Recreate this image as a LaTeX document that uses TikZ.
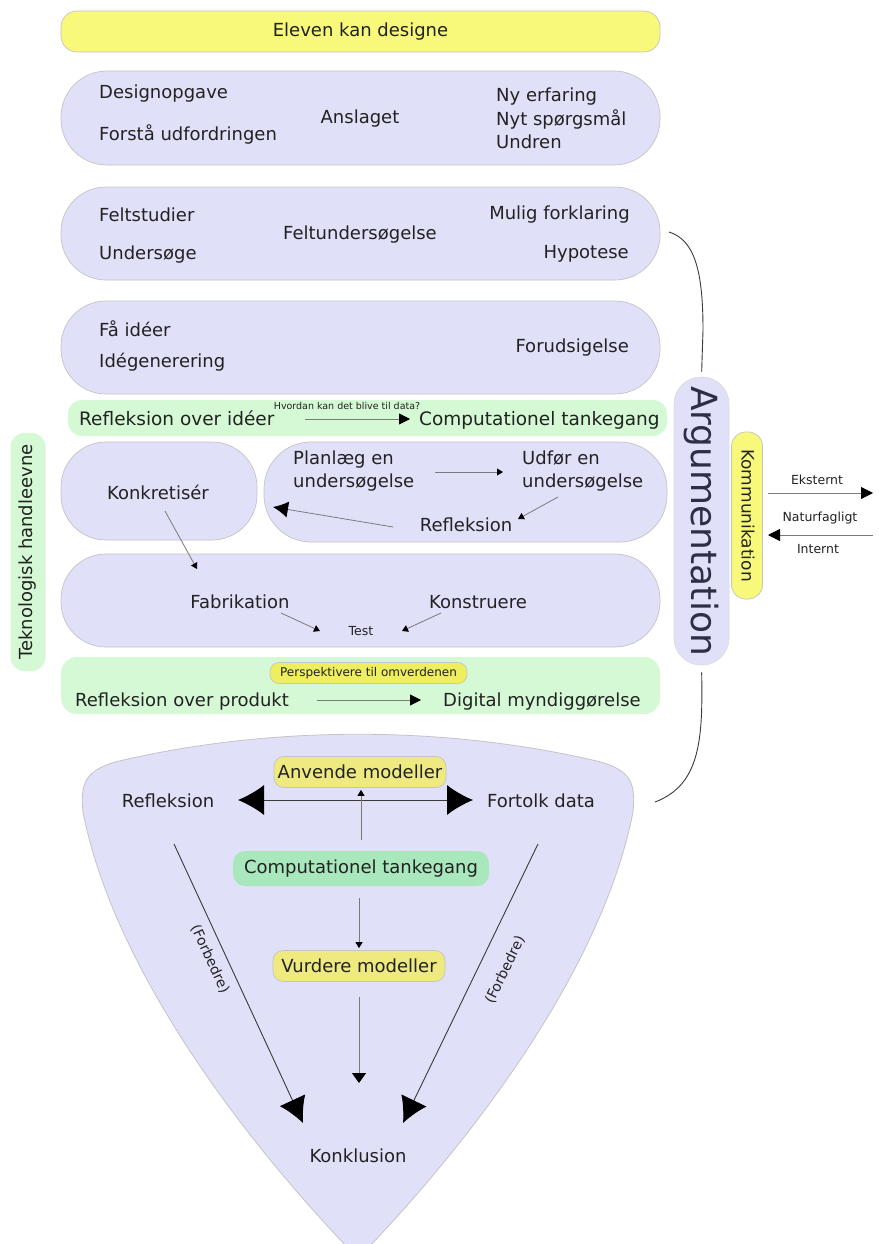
\documentclass[tikz,border=0pt]{standalone}
\usepackage{fontspec}
\setmainfont{DejaVu Sans}
\usetikzlibrary{arrows.meta}
\definecolor{lav}{HTML}{E0E0F9}
\definecolor{edge}{HTML}{C4C4C8}
\definecolor{ylw}{HTML}{F8F87A}
\definecolor{ylwsoft}{HTML}{EEEA80}
\definecolor{ylwpersp}{HTML}{EEEE5E}
\definecolor{grn}{HTML}{D5F9D5}
\definecolor{grnmid}{HTML}{A8E8BC}
\definecolor{ink}{HTML}{222222}
\definecolor{argink}{HTML}{2E2E48}
\definecolor{wire}{HTML}{7A7A7A}
\definecolor{wiredark}{HTML}{3A3A3A}
\newcommand\fsz[1]{\fontsize{#1pt}{1.28\dimexpr #1pt\relax}\selectfont}
\begin{document}
\begin{tikzpicture}[x=1pt,y=-1pt,
  box/.style={draw=edge, line width=0.7pt, inner sep=0pt},
  lavbox/.style={box, fill=lav},
  txt/.style={inner sep=0pt, text=ink, font=\fsz{18}},
  conn/.style={draw=wire, line width=0.8pt},
  conndark/.style={draw=wiredark, line width=0.9pt},
  tipS/.style={-{Triangle[length=6pt,width=7pt,color=black]}},
  tipM/.style={-{Triangle[length=11pt,width=11pt,color=black]}},
  tipL/.style={-{Latex[length=15pt,width=16pt,color=black]}},
  tipXL/.style={-{Latex[length=25pt,width=28pt,color=black]}},
]
\clip (0,0) rectangle (878,1244);
\fill[white] (0,0) rectangle (878,1244);

% ---------- top banner ----------
\node[box, fill=ylw, minimum width=599pt, minimum height=41pt, rounded corners=16pt] (top) at (360.5,31.5) {};
\node[txt] (topt) at (360.5,31.5) {Eleven kan designe};

% ---------- Anslaget ----------
\node[lavbox, minimum width=599pt, minimum height=94pt, rounded corners=46pt] (ansl) at (360.5,118) {};
\node[txt, anchor=base west] (dop) at (99,99) {Designopgave};
\node[txt, anchor=base west] (fud) at (99,140) {Forstå udfordringen};
\node[txt, anchor=base] (anslt) at (360,124) {Anslaget};
\node[txt, anchor=base west] (nye) at (496,102) {Ny erfaring};
\node[txt, anchor=base west] (nys) at (496,125) {Nyt spørgsmål};
\node[txt, anchor=base west] (und) at (496,148) {Undren};

% ---------- Feltundersøgelse ----------
\node[lavbox, minimum width=599pt, minimum height=93pt, rounded corners=45pt] (felt) at (360.5,233.5) {};
\node[txt, anchor=base west] (fst) at (99,221) {Feltstudier};
\node[txt, anchor=base west] (uds) at (99,259) {Undersøge};
\node[txt, anchor=base] (feltt) at (360,239) {Feltundersøgelse};
\node[txt, anchor=base east] (mfk) at (630,219) {Mulig forklaring};
\node[txt, anchor=base east] (hyp) at (629,258) {Hypotese};

% ---------- Idégenerering ----------
\node[lavbox, minimum width=599pt, minimum height=93pt, rounded corners=45pt] (ide) at (360.5,347.5) {};
\node[txt, anchor=base west] (fai) at (99,336) {Få idéer};
\node[txt, anchor=base west] (ideg) at (99,367) {Idégenerering};
\node[txt, anchor=base east] (forud) at (629,352) {Forudsigelse};

% ---------- Refleksion over idéer ----------
\node[box, fill=grn, draw=none, minimum width=599pt, minimum height=36pt, rounded corners=14pt] (g1) at (367.5,418) {};
\node[txt, anchor=base west, font=\fsz{18.5}] (rov) at (79,425) {Refleksion over idéer};
\node[txt, anchor=base west, font=\fsz{18.5}] (ctk1) at (419,425) {Computationel tankegang};
\node[txt, anchor=base, font=\fsz{9.5}] (hvd) at (347,409) {Hvordan kan det blive til data?};
\coordinate (g1a) at (305,419);
\coordinate (g1b) at (410,419);
\draw[conn, tipM] (g1a) -- (g1b);

% ---------- Konkretisér ----------
\node[lavbox, minimum width=196pt, minimum height=98pt, rounded corners=45pt] (konk) at (159,491) {};
\node[txt, anchor=base] (konkt) at (158,499) {Konkretisér};

% ---------- Planlæg / Udfør ----------
\node[lavbox, minimum width=403pt, minimum height=100pt, rounded corners=47pt] (plan) at (465.5,492) {};
\node[txt, anchor=west, align=left, font=\fontsize{18pt}{23pt}\selectfont] (plt) at (293,471.5) {Planlæg en\\undersøgelse};
\node[txt, anchor=west, align=left, font=\fontsize{18pt}{23pt}\selectfont] (udt) at (522,471.5) {Udfør en\\undersøgelse};
\node[txt, anchor=base] (refl1) at (466,531) {Refleksion};
\coordinate (pla) at (435,472);
\coordinate (plb) at (503,472);
\coordinate (uda) at (558,497);
\coordinate (udb) at (518,519);
\coordinate (rfa) at (393,527);
\coordinate (rfb) at (273,507);
\draw[conn, tipS] (pla) -- (plb);
\draw[conn, tipS] (uda) -- (udb);
\draw[conn, tipL] (rfa) -- (rfb);

% ---------- Fabrikation ----------
\node[lavbox, minimum width=599pt, minimum height=93pt, rounded corners=45pt] (fab) at (360.5,600.5) {};
\node[txt, anchor=base] (fabt) at (240,608) {Fabrikation};
\node[txt, anchor=base] (kons) at (478,608) {Konstruere};
\node[txt, anchor=base, font=\fsz{12.5}] (test) at (361,635) {Test};
\coordinate (koa) at (165,511);
\coordinate (kob) at (197,569);
\coordinate (fba) at (281,613);
\coordinate (fbb) at (320,631);
\coordinate (kna) at (441,613);
\coordinate (knb) at (402,631);
\draw[conn, tipS] (koa) -- (kob);
\draw[conn, tipS] (fba) -- (fbb);
\draw[conn, tipS] (kna) -- (knb);

% ---------- Refleksion over produkt ----------
\node[box, fill=grn, draw=none, minimum width=599pt, minimum height=57pt, rounded corners=16pt] (g2) at (360.5,685.5) {};
\node[box, fill=ylwpersp, draw=edge, minimum width=197pt, minimum height=21pt, rounded corners=9pt] (persp) at (368.5,673) {};
\node[txt, font=\fsz{12}] (perspt) at (368.5,673) {Perspektivere til omverdenen};
\node[txt, anchor=base west] (rop) at (75,706) {Refleksion over produkt};
\node[txt, anchor=base west] (dmy) at (443,706) {Digital myndiggørelse};
\coordinate (g2a) at (317,700);
\coordinate (g2b) at (421,700);
\draw[conn, tipM] (g2a) -- (g2b);

% ---------- Teknologisk handleevne ----------
\node[box, fill=grn, draw=none, rotate=90, minimum width=238pt, minimum height=35pt, rounded corners=14pt] (tek) at (28,552) {};
\node[txt, rotate=90] (tekt) at (28,552) {Teknologisk handleevne};

% ---------- Argumentation / Kommunikation ----------
\node[lavbox, draw=edge!60, rotate=-90, minimum width=288pt, minimum height=55pt, rounded corners=27pt] (arg) at (701.5,521) {};
\node[inner sep=0pt, text=argink, font=\fsz{36}, rotate=-90] (argt) at (701.5,521) {Argumentation};
\node[box, fill=ylw, rotate=-90, minimum width=167pt, minimum height=31pt, rounded corners=14pt] (kom) at (747,515.5) {};
\node[txt, rotate=-90, font=\fsz{17}] (komt) at (748,515.5) {Kommunikation};
\node[txt, anchor=base, font=\fsz{12.5}] (eks) at (817,484) {Eksternt};
\node[txt, anchor=base, font=\fsz{12.5}] (nat) at (820,521) {Naturfagligt};
\node[txt, anchor=base, font=\fsz{12.5}] (int) at (818,553) {Internt};
\coordinate (eka) at (768,493);
\coordinate (ekb) at (873,493);
\coordinate (ina) at (873,535);
\coordinate (inb) at (768,535);
\draw[conn, -{Triangle[length=12pt,width=12pt,color=black]}] (eka) -- (ekb);
\draw[conn, -{Triangle[length=12pt,width=12pt,color=black]}] (ina) -- (inb);

% links from the boxes to Argumentation
\coordinate (cu1) at (669,232);
\coordinate (cl2) at (655,802);
\draw[wiredark, line width=0.9pt, shorten >=5pt] (cu1) .. controls (695,240) and (703,272) .. (703,330) -- (arg.west);
\draw[wiredark, line width=0.9pt, shorten <=7pt] (arg.east) .. controls (703,740) and (700,785) .. (cl2);

% ---------- evaluation funnel ----------
\path[fill=lav, draw=edge, line width=0.8pt]
  (83,812) .. controls (80,782) and (86,771) .. (115,762)
  .. controls (270,725) and (446,725) .. (601,762)
  .. controls (630,771) and (636,782) .. (633,812)
  .. controls (604,960) and (486,1124) .. (368,1248)
  .. controls (360,1256) and (356,1256) .. (348,1248)
  .. controls (230,1124) and (112,960) .. cycle;

\node[box, fill=ylwsoft, minimum width=172pt, minimum height=31pt, rounded corners=10pt] (anv) at (360,772) {};
\node[txt] (anvt) at (360,772) {Anvende modeller};
\node[txt, anchor=base] (refl2) at (168,807) {Refleksion};
\node[txt, anchor=base] (fort) at (541,807) {Fortolk data};
\node[box, fill=grnmid, draw=none, minimum width=256pt, minimum height=35pt, rounded corners=12pt] (comp) at (361,868.5) {};
\node[txt] (compt) at (361,868.5) {Computationel tankegang};
\node[box, fill=ylwsoft, minimum width=172pt, minimum height=31pt, rounded corners=10pt] (vur) at (359,966) {};
\node[txt] (vurt) at (359,966) {Vurdere modeller};
\node[txt, anchor=base] (konkl) at (358,1162) {Konklusion};

\coordinate (dbl1) at (238,800);
\coordinate (dbl2) at (473,800);
\draw[conndark, {Latex[length=26pt,width=30pt,color=black]}-{Latex[length=26pt,width=30pt,color=black]}] (dbl1) -- (dbl2);

\draw[conn, tipS, shorten <=11pt, shorten >=2pt] (comp.north -| 361,0) -- (anv.south -| 361,0);
\draw[conn, tipS, shorten <=12pt, shorten >=2pt] (comp.south -| 359,0) -- (vur.north);
\coordinate (dn4) at (359,1083);
\draw[conn, -{Triangle[length=10pt,width=14pt,color=black]}, shorten <=15pt] (vur.south) -- (dn4);

\coordinate (dl1) at (174,844);
\coordinate (dl2) at (303,1123);
\coordinate (dr1) at (538,844);
\coordinate (dr2) at (403,1123);
\draw[conndark, tipXL] (dl1) -- (dl2);
\draw[conndark, tipXL] (dr1) -- (dr2);
\node[txt, font=\fsz{14}, rotate=-65.2] (fbl) at (210,959) {(Forbedre)};
\node[txt, font=\fsz{14}, rotate=64.2] (fbr) at (505,970) {(Forbedre)};
\end{tikzpicture}
\end{document}
